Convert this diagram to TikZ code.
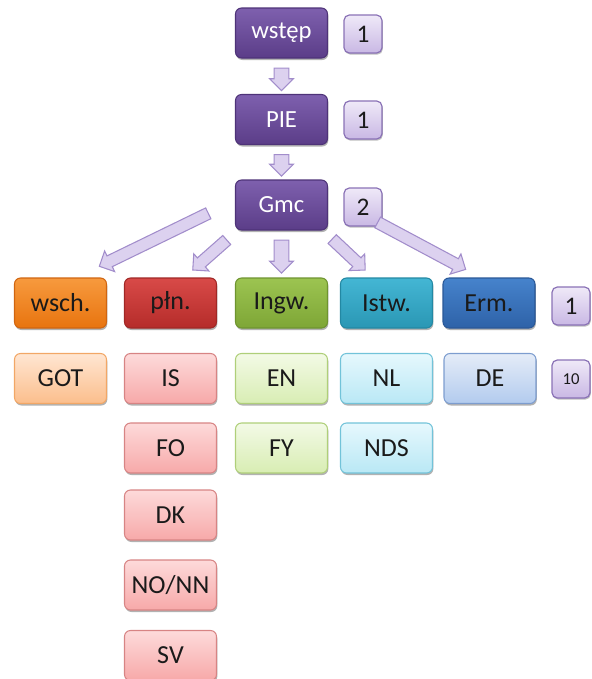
\documentclass[tikz,border=0pt]{standalone}
\usepackage{fontspec}
\setmainfont{Carlito}
\usetikzlibrary{shapes.arrows,shadows,calc}
\definecolor{purT}{HTML}{7E60AE}
\definecolor{purB}{HTML}{5B3D88}
\definecolor{purD}{HTML}{4E3378}
\definecolor{badT}{HTML}{EFE9F8}
\definecolor{badB}{HTML}{C9B8E4}
\definecolor{badD}{HTML}{8A72B6}
\definecolor{arrF}{HTML}{DCD1EF}
\definecolor{arrD}{HTML}{A28DCB}
\definecolor{txt}{HTML}{1A1A1A}
\definecolor{orT}{HTML}{F79A3E}\definecolor{orB}{HTML}{E8740F}\definecolor{orD}{HTML}{D06510}
\definecolor{reT}{HTML}{D84A48}\definecolor{reB}{HTML}{B52C2A}\definecolor{reD}{HTML}{A02826}
\definecolor{grT}{HTML}{9CC451}\definecolor{grB}{HTML}{7EA636}\definecolor{grD}{HTML}{6E9430}
\definecolor{teT}{HTML}{44B6D4}\definecolor{teB}{HTML}{2A97B4}\definecolor{teD}{HTML}{2388A3}
\definecolor{blT}{HTML}{4683CC}\definecolor{blB}{HTML}{2E62A8}\definecolor{blD}{HTML}{2A5897}
\definecolor{lorT}{HTML}{FFE6D2}\definecolor{lorB}{HTML}{FBBE8C}\definecolor{lorD}{HTML}{F2A766}
\definecolor{lreT}{HTML}{FDDADA}\definecolor{lreB}{HTML}{F7A9A9}\definecolor{lreD}{HTML}{D78484}
\definecolor{lgrT}{HTML}{F3FAE6}\definecolor{lgrB}{HTML}{D8EDB3}\definecolor{lgrD}{HTML}{AFCF79}
\definecolor{lteT}{HTML}{E6F8FD}\definecolor{lteB}{HTML}{B9E8F5}\definecolor{lteD}{HTML}{72C3D9}
\definecolor{lblT}{HTML}{E4ECF8}\definecolor{lblB}{HTML}{B3CBEE}\definecolor{lblD}{HTML}{7D9DCF}
\newcommand\blockarrow[3][]{%
  \path let \p1=($(#3)-(#2)$), \n1={atan2(\y1,\x1)}, \n2={veclen(\x1,\y1)} in
    node[barrow,#1,rotate=\n1,minimum height=\n2] at ($(#2)!0.5!(#3)$) {};}
\begin{document}
\begin{tikzpicture}[x=0.75pt,y=-0.75pt,
  grad/.style n args={3}{top color=#1,bottom color=#2,draw=#3},
  box/.style={rounded corners=4.5pt,minimum width=69pt,minimum height=37.5pt,
    inner sep=0pt,line width=0.8pt,font=\fontsize{19.5}{21}\selectfont,text=txt,
    drop shadow={shadow xshift=0.6pt,shadow yshift=-1.5pt,opacity=0.3,fill=black}},
  pbox/.style={box,grad={purT}{purB}{purD},text=white,font=\fontsize{18.5}{20}\selectfont},
  badge/.style={rounded corners=4pt,minimum width=28.5pt,minimum height=28.5pt,
    inner sep=0pt,line width=0.9pt,grad={badT}{badB}{badD},text=txt,
    font=\fontsize{19}{21}\selectfont,
    drop shadow={shadow xshift=0.6pt,shadow yshift=-1.2pt,opacity=0.25,fill=black}},
  barrow/.style={single arrow,draw=arrD,fill=arrF,line width=0.8pt,inner xsep=0pt,
    inner ysep=4.1pt,single arrow head extend=4.1pt,single arrow head indent=0pt},
  sbarrow/.style={barrow,inner ysep=5.1pt,single arrow head extend=3.4pt},
  orangeD/.style={box,grad={orT}{orB}{orD}},
  redD/.style={box,grad={reT}{reB}{reD}},
  greenD/.style={box,grad={grT}{grB}{grD}},
  tealD/.style={box,grad={teT}{teB}{teD}},
  blueD/.style={box,grad={blT}{blB}{blD}},
  orangeL/.style={box,grad={lorT}{lorB}{lorD}},
  redL/.style={box,grad={lreT}{lreB}{lreD}},
  greenL/.style={box,grad={lgrT}{lgrB}{lgrD}},
  tealL/.style={box,grad={lteT}{lteB}{lteD}},
  blueL/.style={box,grad={lblT}{lblB}{lblD}},
]
\useasboundingbox (0,0) rectangle (592,679);
% top column
\node[pbox] (wstep) at (281.5,33) {wstęp};
\node[pbox] (pie) at (281.5,119.5) {PIE};
\node[pbox] (gmc) at (281.5,205) {Gmc};
\node[badge] (b1) at (363,34) {1};
\node[badge] (b2) at (363,120) {1};
\node[badge] (b3) at (363,207) {2};
% row 2
\node[orangeD] (wsch) at (60.5,303) {wsch.};
\node[redD] (pln) at (170.5,303) {płn.};
\node[greenD] (ingw) at (281.5,303) {Ingw.};
\node[tealD] (istw) at (386.5,303) {Istw.};
\node[blueD] (erm) at (489,303) {Erm.};
\node[badge] (b4) at (571,306) {1};
% row 3
\node[orangeL] (got) at (60.5,378.5) {GOT};
\node[redL] (is) at (170.5,378.5) {IS};
\node[greenL] (en) at (281.5,378.5) {EN};
\node[tealL] (nl) at (386.5,378.5) {NL};
\node[blueL] (de) at (490,378.5) {DE};
\node[badge,font=\fontsize{12.5}{14}\selectfont] (b5) at (571,379) {10};
% row 4
\node[redL] (fo) at (170.5,448) {FO};
\node[greenL] (fy) at (281.5,448) {FY};
\node[tealL] (nds) at (386.5,448) {NDS};
% rest of column
\node[redL] (dk) at (170.5,515) {DK};
\node[redL] (nonn) at (170.5,585) {NO/NN};
\node[redL] (sv) at (170.5,655.5) {SV};
% arrow end points
\coordinate (a1s) at ($(wstep.south)+(0,6)$);
\coordinate (a1e) at ($(pie.north)+(0,-7)$);
\coordinate (a2s) at ($(pie.south)+(0,6)$);
\coordinate (a2e) at ($(gmc.north)+(0,-7)$);
\coordinate (a3s) at (211,212);
\coordinate (a3e) at (102,265);
\coordinate (a4s) at (229,238);
\coordinate (a4e) at (195,268);
\coordinate (a5s) at ($(gmc.south)+(0,6)$);
\coordinate (a5e) at ($(ingw.north)+(0,-8)$);
\coordinate (a6s) at (330,237);
\coordinate (a6e) at (363,268);
\coordinate (a7s) at (375,221);
\coordinate (a7e) at (463,268);
\blockarrow[sbarrow]{a1s}{a1e}
\blockarrow[sbarrow]{a2s}{a2e}
\blockarrow{a3s}{a3e}
\blockarrow{a4s}{a4e}
\blockarrow[sbarrow]{a5s}{a5e}
\blockarrow{a6s}{a6e}
\blockarrow{a7s}{a7e}
\end{tikzpicture}
\end{document}
